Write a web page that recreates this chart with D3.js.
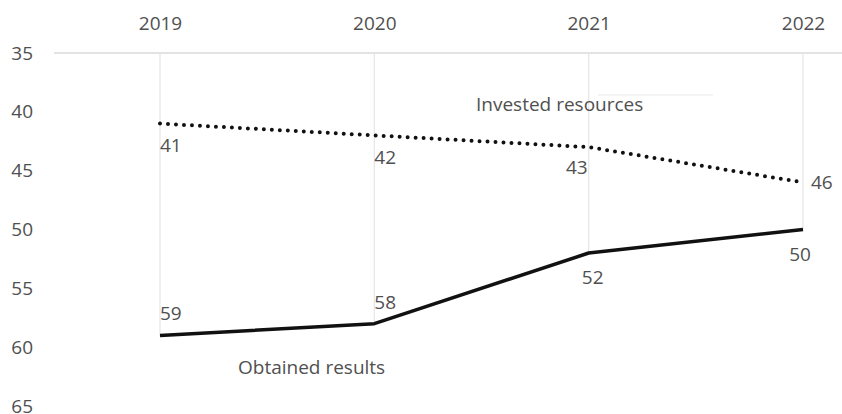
<!DOCTYPE html>
<html>
<head>
<meta charset="utf-8">
<script src="https://cdn.jsdelivr.net/npm/d3@7"></script>
<style>
  html, body { margin: 0; padding: 0; background: #fff; }
  svg { display: block; font-family: "Open Sans", "Noto Sans", sans-serif; }
</style>
</head>
<body>
<svg id="chart" width="842" height="414"></svg>
<script>
const years = ["2019", "2020", "2021", "2022"];
const investedResources = [41, 42, 43, 46];
const obtainedResults = [59, 58, 52, 50];
const yTicks = [35, 40, 45, 50, 55, 60, 65];
const seriesNames = ["Invested resources", "Obtained results"];

const svg = d3.select("#chart");
const W = 842, H = 414;

const x = d3.scalePoint().domain(years).range([160, 803]);
const y = d3.scaleLinear().domain([35, 65]).range([53, 406]);

const textColor = "#505050";
const fontSize = 19;

// top horizontal axis line
svg.append("line")
  .attr("x1", 54).attr("x2", W)
  .attr("y1", y(35)).attr("y2", y(35))
  .attr("stroke", "#e3e3e3").attr("stroke-width", 2);

// drop lines
years.forEach((yr, i) => {
  const maxVal = Math.max(investedResources[i], obtainedResults[i]);
  svg.append("line")
    .attr("x1", x(yr)).attr("x2", x(yr))
    .attr("y1", y(35)).attr("y2", y(maxVal))
    .attr("stroke", "#e6e6e6").attr("stroke-width", 1.2);
});

// faint artifact line near series label
svg.append("line")
  .attr("x1", 598).attr("x2", 713)
  .attr("y1", 95).attr("y2", 95)
  .attr("stroke", "#f0f0f0").attr("stroke-width", 1.5);

// x axis labels at top
const xAxis = d3.axisTop(x).tickSize(0).tickPadding(0);
const gx = svg.append("g").attr("transform", "translate(0,30)").call(xAxis);
gx.select(".domain").remove();
gx.selectAll("text")
  .attr("fill", textColor)
  .attr("font-size", fontSize)
  .attr("font-family", "'Open Sans', 'Noto Sans', sans-serif");

// y axis labels
const yAxis = d3.axisLeft(y).tickValues(yTicks).tickSize(0).tickPadding(0);
const gy = svg.append("g").attr("transform", "translate(33,0)").call(yAxis);
gy.select(".domain").remove();
gy.selectAll("text")
  .attr("fill", textColor)
  .attr("font-size", fontSize)
  .attr("font-family", "'Open Sans', 'Noto Sans', sans-serif");

const line = d3.line().x((d, i) => x(years[i])).y(d => y(d));

// invested resources dotted
svg.append("path")
  .datum(investedResources)
  .attr("d", line)
  .attr("fill", "none")
  .attr("stroke", "#111")
  .attr("stroke-width", 4)
  .attr("stroke-linecap", "round")
  .attr("stroke-dasharray", "0 8");

// obtained results solid
svg.append("path")
  .datum(obtainedResults)
  .attr("d", line)
  .attr("fill", "none")
  .attr("stroke", "#111")
  .attr("stroke-width", 3.5)
  .attr("stroke-linejoin", "round");

// data labels
const invLabelPos = [
  {dx: 0, dy: 22, anchor: "start"},
  {dx: 0, dy: 22, anchor: "start"},
  {dx: -1, dy: 20, anchor: "end"},
  {dx: 8, dy: 0, anchor: "start"}
];
const obtLabelPos = [
  {dx: 0, dy: -22, anchor: "start"},
  {dx: 0, dy: -21, anchor: "start"},
  {dx: 4, dy: 24, anchor: "middle"},
  {dx: -3, dy: 25, anchor: "middle"}
];

investedResources.forEach((v, i) => {
  svg.append("text")
    .attr("x", x(years[i]) + invLabelPos[i].dx)
    .attr("y", y(v) + invLabelPos[i].dy)
    .attr("dy", "0.35em")
    .attr("text-anchor", invLabelPos[i].anchor)
    .attr("fill", textColor)
    .attr("font-size", fontSize)
    .text(v);
});
obtainedResults.forEach((v, i) => {
  svg.append("text")
    .attr("x", x(years[i]) + obtLabelPos[i].dx)
    .attr("y", y(v) + obtLabelPos[i].dy)
    .attr("dy", "0.35em")
    .attr("text-anchor", obtLabelPos[i].anchor)
    .attr("fill", textColor)
    .attr("font-size", fontSize)
    .text(v);
});

// series labels
svg.append("text")
  .attr("x", 476).attr("y", 104).attr("dy", "0.35em")
  .attr("fill", textColor).attr("font-size", fontSize)
  .text(seriesNames[0]);
svg.append("text")
  .attr("x", 238).attr("y", 367).attr("dy", "0.35em")
  .attr("fill", textColor).attr("font-size", fontSize)
  .text(seriesNames[1]);
</script>
</body>
</html>
